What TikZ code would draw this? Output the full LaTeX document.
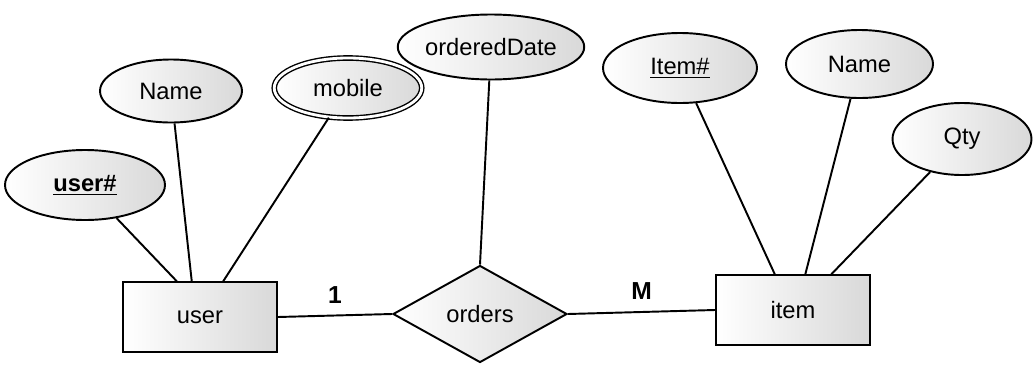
\documentclass[tikz,border=0pt]{standalone}
\usepackage{fontspec}
\setmainfont{Liberation Sans}
\usetikzlibrary{shapes.geometric}

\tikzset{
  attr/.style={ellipse, draw, line width=1.1pt, left color=white, right color=gray!30, inner sep=0pt, font=\fontsize{13.5}{16}\selectfont},
  entity/.style={rectangle, draw, line width=1.1pt, left color=white, right color=gray!30, minimum width=3.08cm, minimum height=1.39cm, font=\fontsize{13.5}{16}\selectfont},
  rel/.style={diamond, draw, line width=1.1pt, left color=white, right color=gray!30, inner sep=0pt, minimum width=3.48cm, minimum height=1.94cm, font=\fontsize{13.5}{16}\selectfont},
  card/.style={above=3pt, font=\fontsize{14}{16}\selectfont\bfseries}
}

\begin{document}
\begin{tikzpicture}[line width=1.1pt]
    \useasboundingbox (0,0) rectangle (20.72,-7.3);

    % entities and relationship
    \node [entity] (user) at (4.0,-6.34) {user};
    \node [rel] (orders) at (9.6,-6.28) {orders};
    \node [entity] (item) at (15.86,-6.2) {item};

    % attributes
    \node [attr, minimum width=3.2cm, minimum height=1.4cm] (userid) at (1.7,-3.7) {\bfseries\underline{user\#}};
    \node [attr, minimum width=2.84cm, minimum height=1.26cm] (uname) at (3.42,-1.82) {Name};
    \node [attr, double, double distance=1.6pt, line width=0.8pt, minimum width=2.95cm, minimum height=1.2cm] (mobile) at (6.96,-1.76) {mobile};
    \node [attr, minimum width=2.84cm, minimum height=1.3cm] (odate) at (9.82,-0.94) {orderedDate};
    \node [attr, minimum width=3.08cm, minimum height=1.4cm] (itemid) at (13.6,-1.36) {\underline{Item\#}};
    \node [attr, minimum width=2.94cm, minimum height=1.36cm] (iname) at (17.19,-1.28) {Name};
    \node [attr, minimum width=2.78cm, minimum height=1.44cm] (qty) at (19.24,-2.78) {Qty};

    % connectors
    \draw (userid) -- (user.123);
    \draw (uname) -- (user.103);
    \draw (mobile) -- (user.57);
    \draw (odate) -- (orders.north);
    \draw (itemid) -- (item.117);
    \draw (iname) -- (item.71);
    \draw (qty) -- (item.43);

    \draw (user.east) -- node [card] (one) {1} (orders.west);
    \draw (orders.east) -- node [card] (many) {M} (item.west);

\end{tikzpicture}
\end{document}
